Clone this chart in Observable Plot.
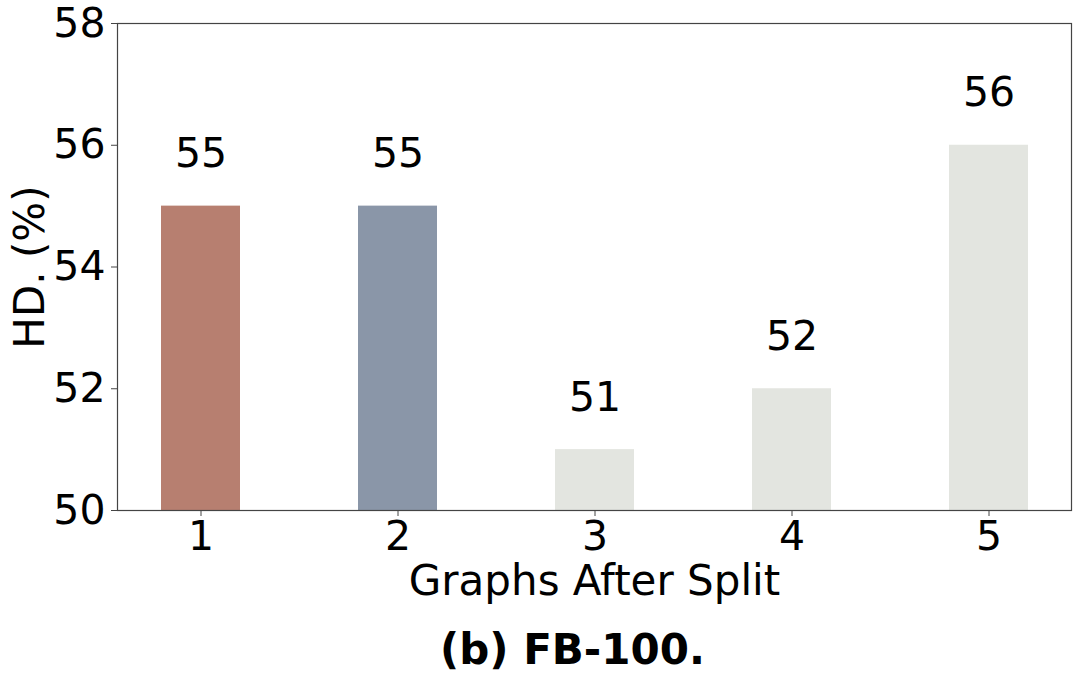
<!DOCTYPE html>
<html>
<head>
<meta charset="utf-8">
<script src="https://cdn.jsdelivr.net/npm/d3@7"></script>
<script src="https://cdn.jsdelivr.net/npm/@observablehq/plot@0.6"></script>
<style>
  html, body { margin: 0; padding: 0; background: #fff; }
  #wrap { width: 1079px; height: 677px; position: relative; font-family: "DejaVu Sans", sans-serif; }
  #title { position: absolute; left: 0; top: 622px; width: 1145px; text-align: center; font-weight: bold; font-size: 42px; line-height: 56px; color: #000; }
</style>
</head>
<body>
<div id="wrap">
  <div id="chart"></div>
  <div id="title">(b) FB-100.</div>
</div>
<script>
const categories = ["1", "2", "3", "4", "5"];
const values = [55, 55, 51, 52, 56];
const colors = ["#b77f70", "#8a96a8", "#e3e5e0", "#e3e5e0", "#e3e5e0"];
const yTicks = [50, 52, 54, 56, 58];
const xLabel = "Graphs After Split";
const yLabel = "HD. (%)";

const data = categories.map((c, i) => ({cat: c, value: values[i], color: colors[i]}));

const chart = Plot.plot({
  width: 1079,
  height: 620,
  marginTop: 23,
  marginBottom: 110,
  marginLeft: 117,
  marginRight: 8,
  style: {fontFamily: "DejaVu Sans, sans-serif", fontSize: "41px", color: "#000", background: "#fff"},
  x: {domain: categories, paddingInner: 0.6, paddingOuter: 0.218, align: 0.5},
  y: {domain: [50, 58]},
  marks: [
    Plot.barY(data, {x: "cat", y1: 50, y2: "value", fill: "color"}),
    Plot.text(data, {x: "cat", y: "value", text: d => String(d.value), dy: -52, fontSize: 41, fill: "#000"}),
    Plot.frame({stroke: "#444", strokeWidth: 1.2}),
    Plot.axisY({ticks: yTicks, tickSize: 6, tickPadding: 6, label: null, fontSize: 41, stroke: "#444"}),
    Plot.axisX({tickSize: 6, tickPadding: 4, label: null, fontSize: 41, stroke: "#444"}),
    Plot.text([xLabel], {frameAnchor: "bottom", textAnchor: "middle", dy: 84, fontSize: 42, fill: "#000"}),
    Plot.text([yLabel], {frameAnchor: "left", textAnchor: "middle", dx: -87, rotate: -90, fontSize: 42, fill: "#000"})
  ]
});
document.getElementById("chart").appendChild(chart);
</script>
</body>
</html>
